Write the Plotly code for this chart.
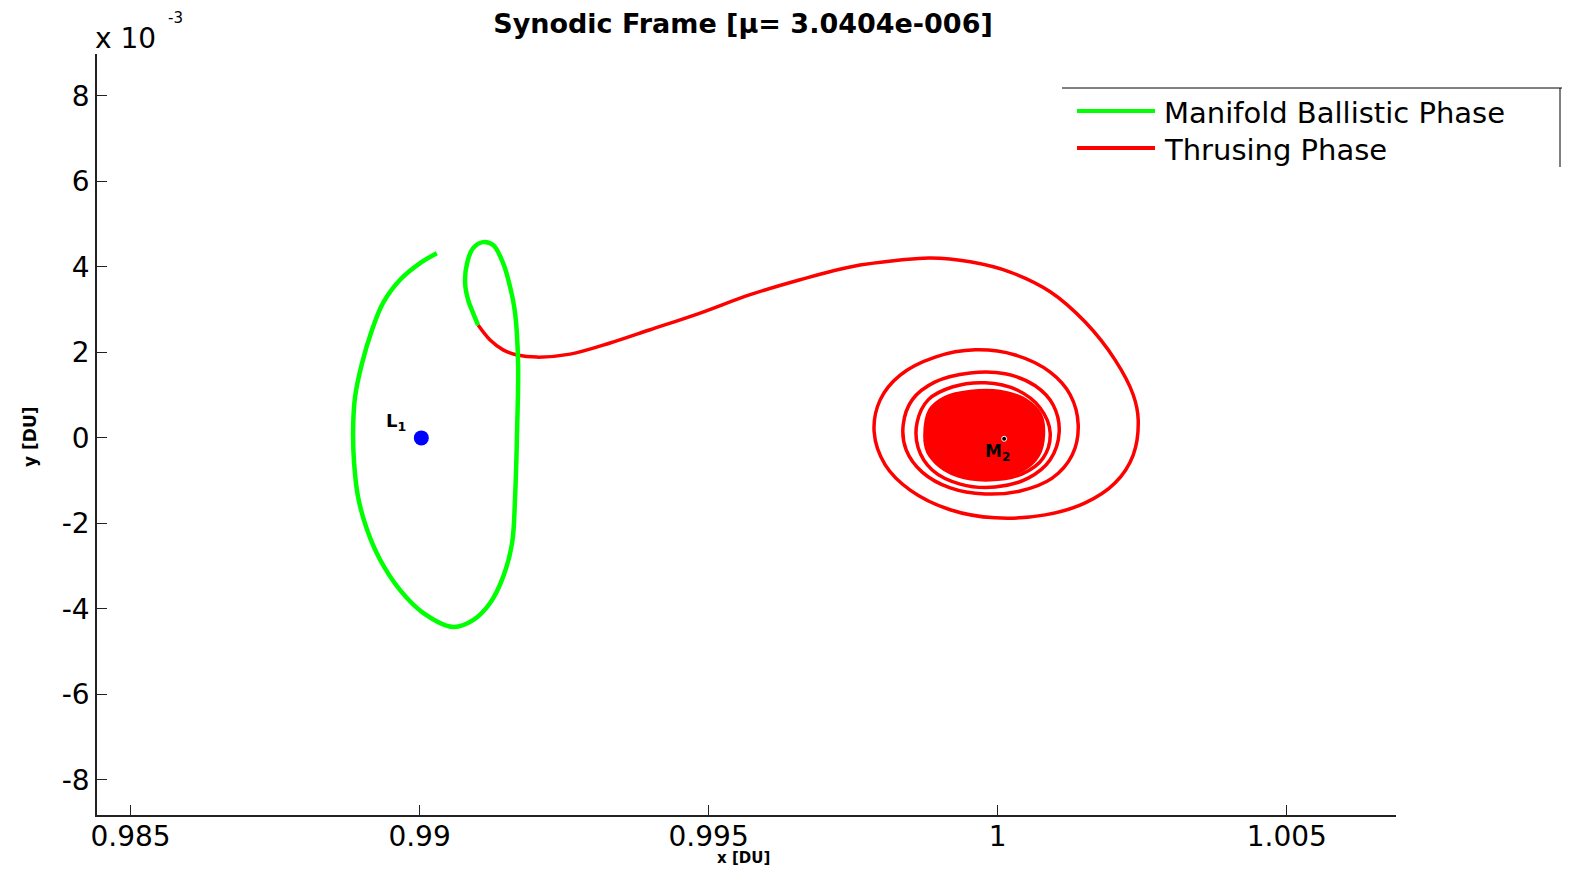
import plotly.graph_objects as go

# ---------------- data (x in DU, y in units of 1e-3 DU) ----------------
green_x = [0.990298, 0.990009, 0.989663, 0.989369, 0.989178, 0.989005, 0.988884, 0.988850,
           0.988867, 0.988936, 0.989092, 0.989317, 0.989663, 0.990061, 0.990580, 0.990926,
           0.991220, 0.991445, 0.991600, 0.991652, 0.991687, 0.991704, 0.991652, 0.991566,
           0.991445, 0.991272, 0.991099, 0.990926, 0.990822, 0.990787, 0.990839, 0.990926,
           0.991012]
green_y = [4.32, 4.09, 3.70, 3.16, 2.53, 1.75, 0.96, 0.19,
           -0.58, -1.38, -2.15, -2.85, -3.56, -4.09, -4.42, -4.26,
           -3.86, -3.25, -2.46, -1.38, 0.19, 1.75, 2.92, 3.53,
           4.09, 4.51, 4.58, 4.44, 4.09, 3.63, 3.23, 2.92,
           2.64]

red_x = [0.991012, 0.991220, 0.991445, 0.991687, 0.992033, 0.992604, 0.993296, 0.993988,
         0.994853, 0.995718, 0.996583, 0.997448, 0.998313, 0.998832, 0.999524, 1.000216,
         1.000908, 1.001514, 1.002033, 1.002344, 1.002431, 1.002344, 1.002033, 1.001514,
         1.000822, 0.999957, 0.999179, 0.998486, 0.998054, 0.997863, 0.997967, 0.998313,
         0.998919, 0.999611, 1.000303, 1.000908, 1.001254, 1.001393, 1.001289, 1.000943,
         1.000389, 0.999784, 0.999179, 0.998694, 0.998417, 0.998365, 0.998521, 0.998919,
         0.999524, 1.000130, 1.000649, 1.000960, 1.001064, 1.000908, 1.000527, 0.999957,
         0.999351, 0.998867, 0.998624, 0.998607, 0.998797, 0.999213, 0.999784, 1.000337,
         1.000735, 1.000908, 1.000787, 1.000424, 0.999870, 0.999317, 0.998919, 0.998746]
red_y = [2.64, 2.29, 2.06, 1.94, 1.89, 1.96, 2.22, 2.53,
         2.92, 3.35, 3.70, 4.00, 4.16, 4.21, 4.12, 3.88,
         3.42, 2.71, 1.82, 1.01, 0.42, -0.40, -1.05, -1.52,
         -1.80, -1.87, -1.68, -1.22, -0.63, 0.14, 0.89, 1.47,
         1.89, 2.06, 1.94, 1.54, 1.01, 0.30, -0.40, -0.94,
         -1.24, -1.31, -1.17, -0.80, -0.28, 0.30, 0.89, 1.31,
         1.52, 1.50, 1.22, 0.77, 0.14, -0.51, -0.94, -1.15,
         -1.08, -0.75, -0.23, 0.37, 0.89, 1.19, 1.29, 1.12,
         0.70, 0.12, -0.47, -0.84, -0.98, -0.89, -0.56, -0.05]

# dense inner spiral (appears as a filled disc)
core_x = [0.998746, 0.998832, 0.999092, 0.999524, 1.000043, 1.000476, 1.000735, 1.000787,
          1.000701, 1.000424, 0.999957, 0.999438, 0.999040, 0.998797]
core_y = [0.07, 0.65, 0.94, 1.08, 1.08, 0.89, 0.54, 0.07,
          -0.40, -0.75, -0.91, -0.89, -0.68, -0.33]

l1_x, l1_y = [0.99003], [0.0]
m2_x, m2_y = [1.000112], [-0.02]

x_ticks = [0.985, 0.99, 0.995, 1.0, 1.005]
x_tick_text = ["0.985", "0.99", "0.995", "1", "1.005"]
y_ticks = [-8, -6, -4, -2, 0, 2, 4, 6, 8]
y_tick_text = ["-8", "-6", "-4", "-2", "0", "2", "4", "6", "8"]

series_names = ["Manifold Ballistic Phase", "Thrusing Phase"]
series_colors = ["#00ff00", "#ff0000"]

FONT = "DejaVu Sans, Liberation Sans, Arial, sans-serif"

fig = go.Figure()

fig.add_trace(go.Scatter(x=core_x + core_x[:1], y=core_y + core_y[:1], mode="lines",
                         fill="toself", fillcolor=series_colors[1],
                         line=dict(color=series_colors[1], width=4, shape="spline"),
                         showlegend=False, hoverinfo="skip"))
fig.add_trace(go.Scatter(x=red_x, y=red_y, mode="lines", name=series_names[1],
                         line=dict(color=series_colors[1], width=3.5, shape="spline", smoothing=1.0),
                         showlegend=False))
fig.add_trace(go.Scatter(x=green_x, y=green_y, mode="lines", name=series_names[0],
                         line=dict(color=series_colors[0], width=4.5, shape="spline", smoothing=1.0),
                         showlegend=False))
fig.add_trace(go.Scatter(x=l1_x, y=l1_y, mode="markers",
                         marker=dict(color="#0000ff", size=15), showlegend=False))
fig.add_trace(go.Scatter(x=m2_x, y=m2_y, mode="markers",
                         marker=dict(color="black", size=5, line=dict(color="white", width=1)),
                         showlegend=False))

# page offset (browser body margin) and plot area in page pixels
OFF = 8
L, R, T, B = 97, 1396, 54, 815
W, H = 1570 - 2 * OFF, 877 - 2 * OFF

def px(xp):
    return (xp - L) / (R - L)

def py(yp):
    return (B - yp) / (B - T)

fig.update_layout(
    width=W, height=H, autosize=False,
    margin=dict(l=L - OFF, r=W - (R - OFF), t=T - OFF, b=H - (B - OFF), pad=0),
    paper_bgcolor="white", plot_bgcolor="white",
    font=dict(family=FONT, color="black"),
    title=dict(text="<b>Synodic Frame [\u03bc= 3.0404e-006]</b>", x=px(743), xanchor="center",
               xref="paper",
               y=1 - (24 - OFF) / H, yanchor="middle", font=dict(size=27, family=FONT, color="black")),
    xaxis=dict(range=[0.98442, 1.00689], tickvals=x_ticks, ticktext=x_tick_text,
               showgrid=False, zeroline=False, showline=True, linecolor="#222", linewidth=1.5,
               ticks="inside", ticklen=10, tickcolor="#222", tickwidth=1,
               ticklabelstandoff=-4,
               tickfont=dict(size=28, family=FONT, color="black")),
    yaxis=dict(range=[-8.82, 8.98], tickvals=y_ticks, ticktext=y_tick_text,
               showgrid=False, zeroline=False, showline=True, linecolor="#222", linewidth=1.5,
               ticks="inside", ticklen=10, tickcolor="#222", tickwidth=1,
               tickfont=dict(size=28, family=FONT, color="black")),
    showlegend=False,
)

ann = []
ann.append(dict(text="x 10", x=px(93), y=py(38), xref="paper", yref="paper",
                xanchor="left", yanchor="middle", showarrow=False,
                font=dict(size=28, family=FONT, color="black")))
ann.append(dict(text="-3", x=px(166), y=py(18), xref="paper", yref="paper",
                xanchor="left", yanchor="middle", showarrow=False,
                font=dict(size=15, family=FONT, color="black")))
ann.append(dict(text="<b>y [DU]</b>", x=px(30), y=py(437), xref="paper", yref="paper",
                xanchor="center", yanchor="middle", textangle=-90, showarrow=False,
                font=dict(size=17, family=FONT, color="black")))
ann.append(dict(text="<b>x [DU]</b>", x=px(743), y=py(869), xref="paper", yref="paper",
                xanchor="center", yanchor="bottom", showarrow=False,
                font=dict(size=15, family=FONT, color="black")))
ann.append(dict(text="<b>L<sub>1</sub></b>", x=px(396), y=py(422), xref="paper", yref="paper",
                xanchor="center", yanchor="middle", showarrow=False,
                font=dict(size=18, family=FONT, color="black")))
ann.append(dict(text="<b>M<sub>2</sub></b>", x=px(997), y=py(452), xref="paper", yref="paper",
                xanchor="center", yanchor="middle", showarrow=False,
                font=dict(size=17, family=FONT, color="black")))

# manual legend (MATLAB style)
shapes = []
legend_rows = [111, 148]
for name, color, row in zip(series_names, series_colors, legend_rows):
    shapes.append(dict(type="line", xref="paper", yref="paper",
                       x0=px(1077), x1=px(1155), y0=py(row), y1=py(row),
                       line=dict(color=color, width=4)))
    ann.append(dict(text=name, x=px(1162), y=py(row + 2), xref="paper", yref="paper",
                    xanchor="left", yanchor="middle", showarrow=False,
                    font=dict(size=29, family=FONT, color="black")))
shapes.append(dict(type="line", xref="paper", yref="paper",
                   x0=px(1062), x1=px(1562), y0=py(88), y1=py(88),
                   line=dict(color="black", width=1)))
shapes.append(dict(type="line", xref="paper", yref="paper",
                   x0=px(1560), x1=px(1560), y0=py(88), y1=py(167),
                   line=dict(color="black", width=1)))

fig.update_layout(annotations=ann, shapes=shapes)

fig.write_html("out.html")
